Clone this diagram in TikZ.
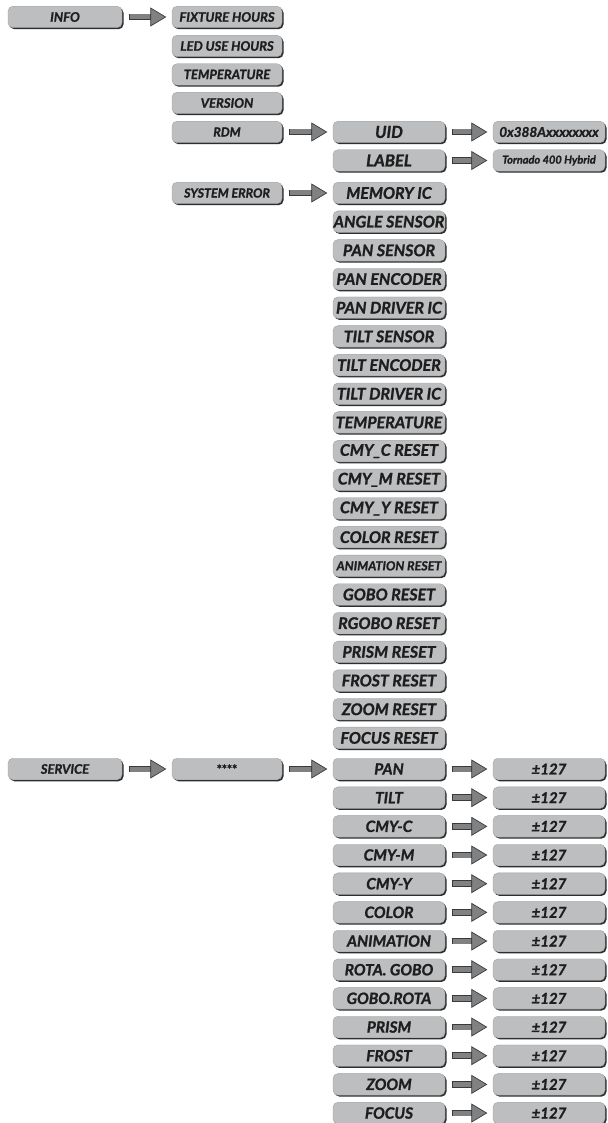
\documentclass[tikz,border=0pt]{standalone}
\usepackage{fontspec}
\setmainfont{Lato}[BoldItalicFeatures={FakeBold=1.2},BoldFeatures={FakeBold=1.2}]
\usetikzlibrary{arrows.meta,shadows}
\definecolor{boxgrey}{HTML}{BDBEC0}
\definecolor{boxedge}{HTML}{A0A1A3}
\definecolor{shadowc}{HTML}{2E2E2E}
\definecolor{arrgrey}{HTML}{808183}
\definecolor{arrdark}{HTML}{3A3A3A}
\definecolor{txt}{HTML}{1E1E1E}
\newcommand\fsz[1]{\fontsize{#1}{#1}\selectfont\bfseries\itshape}
\newcommand\conn[2]{%
  \draw[line width=6.6pt, draw=arrdark, shorten <=6.5pt, shorten >=20pt] (#1.east) -- (#2.west);
  \draw[line width=5pt, draw=arrgrey, shorten <=7.3pt, shorten >=5.5pt,
        -{Triangle[length=16pt,width=19pt,fill=arrgrey,color=arrdark,line width=0.7pt]}] (#1.east) -- (#2.west);}
\begin{document}
\begin{tikzpicture}[x=1pt,y=-1pt,
  mbox/.style={rounded corners=5pt, fill=boxgrey, draw=boxedge, line width=0.4pt,
    minimum height=21.5pt, inner sep=0pt, text=txt,
    drop shadow={shadow xshift=1.5pt, shadow yshift=-1.5pt, fill=shadowc, opacity=1},
    execute at begin node={\hbox to 0pt\bgroup\hss},
    execute at end node={\hss\egroup}},
  c1/.style={mbox, minimum width=114pt, font=\fsz{13}},
  c2/.style={mbox, minimum width=110pt, font=\fsz{13}},
  c3/.style={mbox, minimum width=112pt, font=\fsz{16}},
  c3s/.style={mbox, minimum width=112pt, font=\fsz{15.5}},
  c4/.style={mbox, minimum width=112pt, font=\fsz{15}}]
\useasboundingbox (0,0) rectangle (607,1123);
\fill[white] (0,0) rectangle (607,1123);
% column 1
\node[c1] (info) at (65,17) {INFO};
\node[c1] (service) at (65,769) {SERVICE};
% column 2
\node[c2] (fix) at (227,17) {FIXTURE HOURS};
\node[c2] (led) at (227,46) {LED USE HOURS};
\node[c2] (temp) at (227,74.5) {TEMPERATURE};
\node[c2] (ver) at (227,103) {VERSION};
\node[c2, font=\fsz{12.5}] (rdm) at (227,132) {RDM};
\node[c2, font=\fsz{12.5}] (syserr) at (227,193) {SYSTEM ERROR};
\node[c2, font=\fontsize{12}{12}\selectfont\bfseries] (pass) at (227,769) {\raisebox{-2.5pt}{****}};
% column 3 top
\node[c3, font=\fsz{16.5}] (uid) at (389,132) {UID};
\node[c3, font=\fsz{16.5}] (label) at (389,160.5) {LABEL};
% column 4 top
\node[c4, font=\fsz{13.5}] (uidv) at (549,132) {0x388Axxxxxxxx};
\node[c4, font=\fsz{11}] (labelv) at (549,160.5) {Tornado 400 Hybrid};
% system error list
\foreach \t [count=\i from 0] in {MEMORY IC,ANGLE SENSOR,PAN SENSOR,PAN ENCODER,PAN DRIVER IC,TILT SENSOR,TILT ENCODER,TILT DRIVER IC,TEMPERATURE,CMY\_C RESET,CMY\_M RESET,CMY\_Y RESET,COLOR RESET,{\fsz{12.5}ANIMATION RESET},GOBO RESET,RGOBO RESET,PRISM RESET,FROST RESET,ZOOM RESET,FOCUS RESET}
  \node[c3] (e\i) at (389,{193+28.68*\i}) {\t};
% service list
\foreach \t [count=\i from 0] in {PAN,TILT,CMY-C,CMY-M,CMY-Y,COLOR,ANIMATION,ROTA. GOBO,GOBO.ROTA,PRISM,FROST,ZOOM,FOCUS}{
  \node[c3s] (s\i) at (389,{769+28.67*\i}) {\t};
  \node[c4] (v\i) at (549,{769+28.67*\i}) {±127};
}
% connectors
\conn{info}{fix}
\conn{rdm}{uid}
\conn{uid}{uidv}
\conn{label}{labelv}
\conn{syserr}{e0}
\conn{service}{pass}
\conn{pass}{s0}
\foreach \i in {0,...,12} {\conn{s\i}{v\i}}
\end{tikzpicture}
\end{document}
